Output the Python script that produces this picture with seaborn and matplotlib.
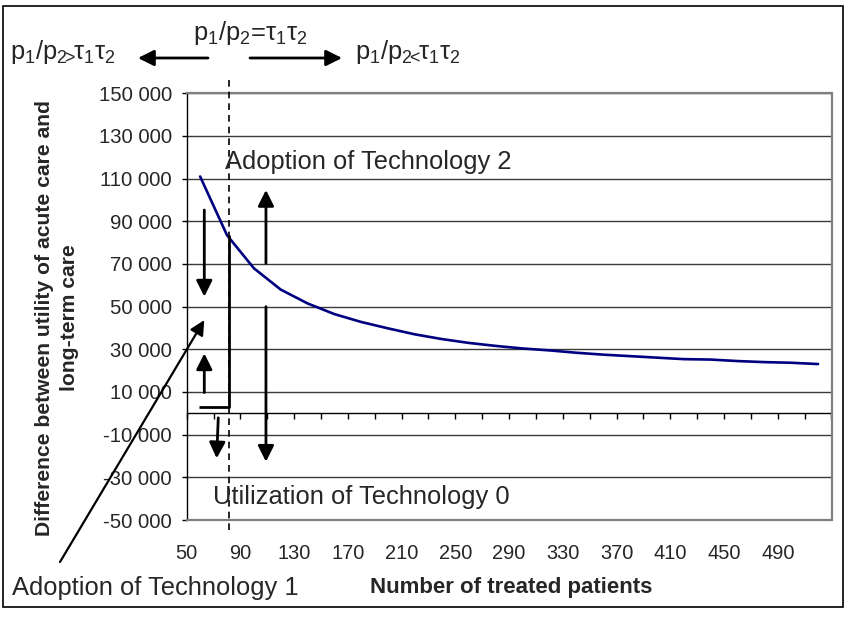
import matplotlib
matplotlib.use("Agg")
import matplotlib.pyplot as plt
from matplotlib.patches import Rectangle
import seaborn as sns
import pandas as pd

# ---------------- data ----------------
patients = [60, 80, 100, 120, 140, 160, 180, 200, 220, 240, 260, 280,
            300, 320, 340, 360, 380, 400, 420, 440, 460, 480, 500, 520]
utility_diff = [111000, 83500, 68000, 58000, 51500, 46500, 42800, 39800,
                37000, 34800, 33000, 31600, 30400, 29500, 28400, 27500,
                26800, 26100, 25400, 25200, 24500, 24000, 23700, 23100]
x_tick_labels = [50, 90, 130, 170, 210, 250, 290, 330, 370, 410, 450, 490]
y_ticks = [-50000, -30000, -10000, 10000, 30000, 50000, 70000, 90000,
           110000, 130000, 150000]

df = pd.DataFrame({"patients": patients, "diff": utility_diff})

# ---------------- style ----------------
sns.set_style("white")
plt.rcParams["font.family"] = ["Liberation Sans", "DejaVu Sans"]
plt.rcParams["mathtext.fontset"] = "custom"
plt.rcParams["mathtext.rm"] = "Liberation Sans"
plt.rcParams["mathtext.it"] = "Liberation Sans"
plt.rcParams["mathtext.default"] = "regular"

W, H = 851, 618
fig = plt.figure(figsize=(W / 100, H / 100), dpi=100)
fig.patch.set_facecolor("white")


def fx(px):
    return px / W


def fy(py):
    return 1 - py / H


ax = fig.add_axes([fx(186.7), fy(520), fx(831.5) - fx(186.7), fy(93.3) - fy(520)])

sns.lineplot(data=df, x="patients", y="diff", ax=ax, color="#000080",
             linewidth=1.9, zorder=5)

ax.set_xlim(50, 530)
ax.set_ylim(-50000, 150000)

# y axis
ax.set_yticks(y_ticks)
ax.set_yticklabels([f"{v:,}".replace(",", " ") for v in y_ticks])
ax.tick_params(axis="y", direction="out", length=3.6, width=1, color="black",
               pad=7, labelsize=14.6, left=True)
ax.yaxis.grid(True, color="#3a3a3a", linewidth=1.0)
ax.xaxis.grid(False)

# x axis labels (drawn at bottom, like the original)
ax.set_xticks(x_tick_labels)
ax.set_xticklabels([str(v) for v in x_tick_labels])
ax.tick_params(axis="x", length=0, pad=17, labelsize=14.4)

ax.set_xlabel("")
ax.set_ylabel("")

for side in ["top", "right", "bottom"]:
    ax.spines[side].set_color("#808080")
    ax.spines[side].set_linewidth(1.6)
ax.spines["left"].set_color("black")
ax.spines["left"].set_linewidth(1.0)

# category axis crossing at zero
zero_frac = (0 - (-50000)) / 200000
sec = ax.secondary_xaxis(zero_frac)
sec.set_xticks(list(range(50, 531, 20)))
sec.set_xticklabels([])
sec.tick_params(axis="x", direction="out", length=4.5, width=1, color="black")
sec.spines["bottom"].set_color("black")
sec.spines["bottom"].set_linewidth(1.0)
sec.spines["top"].set_visible(False)

# axis titles
fig.text(fx(511), fy(588), "Number of treated patients", ha="center",
         va="center", fontsize=16, fontweight="bold")
fig.text(fx(57), fy(318),
         "Difference between utility of acute care and\nlong-term care",
         rotation=90, ha="center", va="center", fontsize=15.2,
         fontweight="bold", linespacing=1.35, multialignment="center")

# ---------------- annotations ----------------
arrow_kw = dict(arrowstyle="-|>", color="black", lw=2.0, mutation_scale=24,
                shrinkA=0, shrinkB=0)

dash_x = 81.7
ax.plot([dash_x, dash_x], [156000, -54700], ls=(0, (4, 3)), color="black",
        lw=1.2, clip_on=False, zorder=6)
# bracket from curve down and left
ax.plot([dash_x, dash_x, 59.4], [83500, 3100, 3100], color="black", lw=2.0,
        zorder=6, solid_capstyle="butt")

ax.annotate("", xy=(63.1, 54700), xytext=(63.1, 95300), arrowprops=arrow_kw)
ax.annotate("", xy=(63.1, 28100), xytext=(63.1, 9700), arrowprops=arrow_kw)
ax.annotate("", xy=(109, 104700), xytext=(109, 70300), arrowprops=arrow_kw)
ax.annotate("", xy=(109, -22700), xytext=(109, 50000), arrowprops=arrow_kw)
ax.annotate("", xy=(72.3, -21100), xytext=(73.5, -2100), arrowprops=arrow_kw)
ax.annotate("", xy=(63.1, 43700), xycoords="data",
            xytext=(fx(60), fy(562)), textcoords="figure fraction",
            arrowprops=dict(arrowstyle="-|>", color="black", lw=1.6,
                            mutation_scale=22, shrinkA=0, shrinkB=0))

ann_fs = 18.4
ax.text(78.5, 117800, "Adoption of Technology 2", ha="left", va="center",
        fontsize=ann_fs, zorder=7)
ax.text(69.4, -39200, "Utilization of Technology 0", ha="left", va="center",
        fontsize=ann_fs, zorder=7)
fig.text(fx(12), fy(588), "Adoption of Technology 1", ha="left",
         va="center", fontsize=ann_fs)

# top conditions
fig.text(fx(250), fy(33), r"p$_1$/p$_2$=τ$_1$τ$_2$", ha="center",
         va="center", fontsize=ann_fs)
fig.text(fx(10), fy(52), r"p$_1$/p$_{2\!\!>\!\!}$τ$_1$τ$_2$", ha="left",
         va="center", fontsize=ann_fs)
fig.text(fx(355), fy(52), r"p$_1$/p$_{2\!\!<\!\!}$τ$_1$τ$_2$", ha="left",
         va="center", fontsize=ann_fs)
ax.annotate("", xy=(fx(138), fy(58)), xycoords="figure fraction",
            xytext=(fx(208), fy(58)), textcoords="figure fraction",
            arrowprops=arrow_kw)
ax.annotate("", xy=(fx(342), fy(58)), xycoords="figure fraction",
            xytext=(fx(250), fy(58)), textcoords="figure fraction",
            arrowprops=arrow_kw)

# outer border
fig.patches.append(Rectangle((fx(2.7), fy(607)), fx(843) - fx(2.7),
                             fy(6) - fy(607), transform=fig.transFigure,
                             fill=False, edgecolor="black", lw=1.2))

fig.savefig("out.png", dpi=100)
